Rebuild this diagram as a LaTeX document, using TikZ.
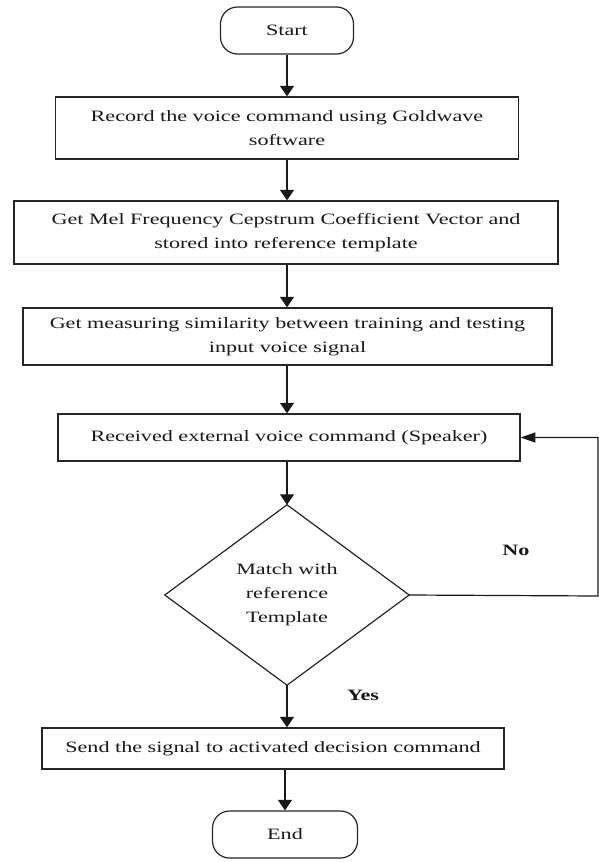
\documentclass[tikz,border=0pt]{standalone}
\usepackage{fontspec}
\setmainfont[FakeStretch=1.4]{Liberation Serif}
\usetikzlibrary{arrows.meta}
\begin{document}
\begin{tikzpicture}[x=1pt,y=-1pt,
  every node/.style={font=\fontsize{15.8}{24}\selectfont, inner sep=0pt, text=black!90},
  boxnode/.style={draw=black!85, line width=1.3pt, rectangle, align=center},
  term/.style={draw=black!85, line width=1.2pt, rounded corners=17pt, align=center},
  lbl/.style={font=\fontsize{15.8}{24}\selectfont\bfseries},
  flow/.style={draw=black!90, line width=1.2pt, -{Triangle[width=14pt,length=10.5pt]}},
  hflow/.style={draw=black!90, line width=1.2pt, -{Triangle[width=10pt,length=14.7pt]}},
]
\useasboundingbox[fill=white] (0,0) rectangle (599,862);

\node[term, minimum width=133pt, minimum height=47pt] (start) at (287,30.5) {Start};
\node[boxnode, minimum width=463pt, minimum height=62pt] (box1) at (287,128)
  {Record the voice command using Goldwave\\software};
\node[boxnode, minimum width=544pt, minimum height=63pt] (box2) at (286,232.5)
  {Get Mel Frequency Cepstrum Coefficient Vector and\\stored into reference template};
\node[boxnode, minimum width=529pt, minimum height=57pt] (box3) at (287.5,336.5)
  {Get measuring similarity between training and testing\\input voice signal};
\node[boxnode, minimum width=462pt, minimum height=47pt] (box4) at (289,437.5)
  {Received external voice command (Speaker)};
\node[minimum width=244pt, minimum height=180pt, align=center] (dec) at (287,595)
  {Match with\\reference\\Template};
\draw[draw=black!85, line width=1.2pt] (dec.north) -- (dec.east) -- (dec.south) -- (dec.west) -- cycle;
\node[boxnode, minimum width=462pt, minimum height=41pt] (send) at (273,748.5)
  {Send the signal to activated decision command};
\node[term, minimum width=145pt, minimum height=47pt] (end) at (285,834.5) {End};

\node[lbl] (no) at (516,550) {No};
\node[lbl] (yes) at (363,695) {Yes};

\coordinate (c1) at (598,596);
\coordinate (c2) at (598,437.5);

\draw[flow] (start.south) -- (start.south |- box1.north);
\draw[flow] (box1.south) -- (box1.south |- box2.north);
\draw[flow] (box2.south -| box1.south) -- (box1.south |- box3.north);
\draw[flow] (box3.south -| box1.south) -- (box1.south |- box4.north);
\draw[flow] (dec.north |- box4.south) -- (dec.north);
\draw[flow] (dec.south) -- (dec.south |- send.north);
\draw[flow] (end.north |- send.south) -- (end.north);
\draw[hflow] (dec.east) -- (c1) -- (c2) -- (box4.east);
\end{tikzpicture}
\end{document}
